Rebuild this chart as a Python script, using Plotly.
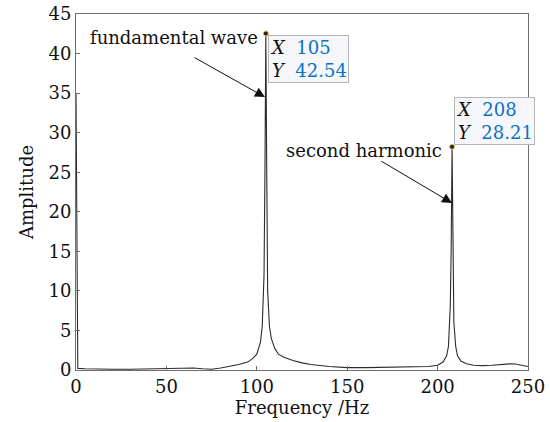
import plotly.graph_objects as go

# Spectrum
freq = [0, 1, 5, 10, 20, 30, 40, 50, 55, 60, 65, 70, 75, 80, 85, 90, 95, 98, 100, 102, 103,
        104, 104.5, 105, 105.5, 106, 107, 108, 110, 112, 115, 120, 125, 130, 140, 150, 160,
        170, 180, 190, 195, 200, 203, 205, 206, 207, 207.5, 208, 208.5, 209, 210, 211, 213,
        216, 220, 225, 230, 235, 240, 243, 246, 250]
amp = [35, 0.2, 0.15, 0.12, 0.1, 0.1, 0.12, 0.15, 0.2, 0.25, 0.25, 0.15, 0.1, 0.25, 0.45,
       0.7, 1.0, 1.5, 2.0, 3.5, 5.5, 12, 25, 42.54, 25, 10, 5.5, 4.0, 2.7, 2.0, 1.6, 1.2, 0.9,
       0.7, 0.45, 0.3, 0.3, 0.35, 0.35, 0.4, 0.45, 0.6, 1.0, 1.8, 3.0, 8, 15, 28.21, 15, 6, 3,
       1.8, 1.1, 0.8, 0.6, 0.55, 0.6, 0.7, 0.78, 0.75, 0.6, 0.45]

peak_freq = [105, 208]
peak_amp = [42.54, 28.21]
peak_names = ["fundamental wave", "second harmonic"]

x_ticks = [0, 50, 100, 150, 200, 250]
y_ticks = [0, 5, 10, 15, 20, 25, 30, 35, 40, 45]

FONT = "DejaVu Serif"
BLUE = "#0b72c6"
FS = 18

fig = go.Figure()
fig.add_trace(go.Scatter(x=freq, y=amp, mode="lines",
                         line=dict(color="#2b2b2b", width=1.1), showlegend=False))
fig.add_trace(go.Scatter(x=peak_freq, y=peak_amp, mode="markers",
                         marker=dict(color="#222222", size=5,
                                     line=dict(color="#d8c860", width=1)),
                         showlegend=False))

annotations = []
# datatips
tip_specs = [
    dict(xanchor="left", yanchor="top", xshift=2, yshift=-2),
    dict(xanchor="left", yanchor="bottom", xshift=2, yshift=2),
]
for fx, fy, spec in zip(peak_freq, peak_amp, tip_specs):
    txt = (f"<i>X</i>&nbsp; <span style='color:{BLUE}'>{fx:g}</span><br>"
           f"<i>Y</i>&nbsp; <span style='color:{BLUE}'>{fy:.2f}</span>")
    annotations.append(dict(x=fx, y=fy, xref="x", yref="y", text=txt, showarrow=False,
                            align="left", bgcolor="#f6f7fa", bordercolor="#b5b5b5",
                            borderwidth=1, borderpad=1,
                            font=dict(family=FONT, size=FS, color="#111111"), **spec))

# labels with arrows
label_pos = [(54.2, 42.0), (159.3, 27.8)]
arrow_head = [(104.5, 34.5), (208.0, 21.1)]
arrow_tail = [(64.7, 39.6), (168.1, 26.5)]
for name, (lx, ly), (hx, hy), (tx, ty) in zip(peak_names, label_pos, arrow_head, arrow_tail):
    annotations.append(dict(x=lx, y=ly, xref="x", yref="y", text=name, showarrow=False,
                            font=dict(family=FONT, size=FS, color="#111111")))
    annotations.append(dict(x=hx, y=hy, xref="x", yref="y", ax=tx, ay=ty,
                            axref="x", ayref="y", text="", showarrow=True,
                            arrowhead=2, arrowsize=2, arrowwidth=1, arrowcolor="#111111",
                            standoff=0))

axis_common = dict(showgrid=False, zeroline=False, showline=True, mirror=True,
                   linecolor="#6e6e6e", linewidth=1, ticks="inside", ticklen=4,
                   tickcolor="#6e6e6e", automargin=False,
                   tickfont=dict(family=FONT, size=FS, color="#111111"))

fig.update_layout(
    width=550, height=422,
    margin=dict(l=76, r=22, t=14, b=52, autoexpand=False),
    paper_bgcolor="white", plot_bgcolor="white",
    xaxis=dict(range=[0, 250], tickvals=x_ticks, ticktext=[str(t) for t in x_ticks],
               title=dict(text="Frequency /Hz", font=dict(family=FONT, size=FS, color="#111111"),
                          standoff=4),
               **axis_common),
    yaxis=dict(range=[0, 45], tickvals=y_ticks, ticktext=[str(t) for t in y_ticks],
               title=dict(text="Amplitude", font=dict(family=FONT, size=FS, color="#111111"),
                          standoff=10),
               **axis_common),
    annotations=annotations,
)

fig.write_html("out.html")
